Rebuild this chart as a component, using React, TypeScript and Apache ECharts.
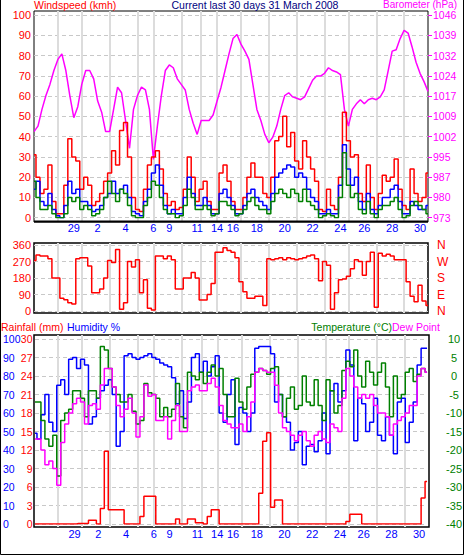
import React, { useEffect, useRef } from 'react';
import * as echarts from 'echarts';

const FONT = '"Liberation Sans", Arial, sans-serif';

// day labels on the time axis, and the sample index at which each day starts
const dayLabels = ['29', '2', '4', '6', '9', '11', '14', '16', '18', '20', '22', '24', '26', '28', '30'];
const dayStart = [6, 12, 19, 26, 30, 37, 42, 46, 52, 59, 66, 73, 79, 86, 93];
const labelShift = 4;

// Wind (km/h)
const windGust = [31, 20, 12, 14, 26, 8, 2, 2, 16, 39, 30, 28, 14, 20, 16, 6, 8, 12, 18, 22, 33, 26, 43, 47, 30, 10, 4, 3, 14, 26, 30, 33, 24, 12, 6, 8, 4, 5, 14, 30, 20, 8, 14, 18, 8, 4, 4, 22, 26, 18, 8, 4, 4, 10, 20, 27, 20, 20, 12, 10, 20, 38, 40, 50, 35, 42, 28, 24, 38, 30, 24, 18, 4, 3, 14, 6, 4, 20, 52, 38, 30, 31, 12, 8, 26, 10, 4, 12, 21, 18, 20, 29, 14, 6, 4, 24, 12, 8, 10, 22];
const windAvg = [14, 18, 8, 6, 12, 4, 1, 0, 6, 18, 12, 14, 8, 8, 6, 3, 4, 6, 10, 12, 18, 12, 14, 16, 10, 3, 2, 1, 8, 14, 22, 26, 16, 6, 2, 4, 2, 2, 10, 20, 12, 6, 6, 10, 6, 2, 2, 12, 14, 10, 6, 2, 2, 6, 12, 14, 10, 8, 6, 4, 12, 20, 22, 24, 26, 25, 20, 22, 20, 14, 10, 8, 2, 2, 4, 2, 2, 16, 36, 24, 16, 20, 8, 4, 12, 4, 2, 6, 10, 10, 14, 16, 8, 2, 2, 8, 6, 4, 4, 6];
const windLow = [18, 10, 4, 4, 6, 2, 0, 0, 2, 10, 8, 10, 4, 6, 4, 1, 2, 4, 10, 18, 12, 8, 14, 12, 6, 1, 0, 0, 6, 10, 18, 16, 10, 4, 2, 2, 0, 1, 6, 14, 10, 4, 4, 6, 4, 1, 2, 8, 8, 6, 4, 1, 2, 4, 8, 10, 6, 4, 4, 2, 8, 12, 14, 12, 10, 14, 12, 8, 14, 8, 6, 4, 0, 1, 2, 1, 0, 10, 32, 16, 10, 12, 4, 2, 8, 2, 0, 4, 6, 6, 8, 10, 4, 0, 1, 6, 8, 6, 4, 2];

// Barometer (hPa)
const baroTicks = [973, 980, 987, 995, 1002, 1009, 1017, 1024, 1032, 1039, 1046];
const barometer = [1004, 1006, 1012, 1017, 1021, 1026, 1030, 1032, 1026, 1017, 1009, 1013, 1021, 1026, 1026, 1023, 1015, 1011, 1004, 1004, 1012, 1020, 1018, 1008, 998, 1012, 1017, 1020, 1019, 1012, 994, 1006, 1017, 1026, 1028, 1027, 1023, 1021, 1019, 1012, 1007, 1003, 1008, 1008, 1008, 1010, 1015, 1020, 1026, 1032, 1037.5, 1039, 1035.5, 1033, 1030, 1021, 1012, 1008, 1003, 1000, 1002, 1006, 1012, 1017, 1018, 1016.5, 1016, 1015.5, 1016.5, 1019.5, 1022.5, 1024, 1024, 1025, 1027, 1026, 1025.5, 1024.5, 1012, 1006, 1012, 1014, 1015.5, 1014, 1015.5, 1016, 1015.5, 1016.5, 1019, 1026, 1033, 1033.5, 1037.5, 1040.5, 1039.5, 1034.5, 1029, 1025, 1022, 1018.5];

// Wind direction (degrees)
const compass = ['N', 'E', 'S', 'W', 'N'];
const windDir = [275, 305, 300, 300, 285, 180, 180, 70, 62, 45, 38, 285, 290, 290, 245, 100, 100, 120, 180, 275, 265, 335, 10, 45, 270, 240, 280, 100, 170, 15, 5, 300, 300, 285, 300, 280, 120, 120, 180, 180, 210, 180, 60, 60, 90, 150, 320, 320, 345, 330, 320, 290, 160, 105, 70, 70, 80, 80, 30, 285, 280, 285, 290, 280, 290, 285, 280, 285, 290, 300, 305, 285, 165, 270, 250, 10, 100, 170, 175, 190, 230, 280, 270, 195, 270, 320, 20, 315, 300, 310, 300, 280, 280, 280, 160, 80, 50, 140, 55, 30];

// Humidity (%), temperature and dew point (°C), rainfall (mm)
const humidity = [49, 46, 59, 70, 55, 50, 75, 78, 70, 89, 90, 84, 89, 86, 54, 58, 68, 72, 75, 78, 70, 42, 50, 91, 92, 90, 89, 90, 91, 92, 90, 89, 87, 86, 85, 79, 65, 72, 57, 66, 90, 92, 82, 88, 80, 85, 91, 60, 55, 70, 78, 43, 63, 60, 50, 60, 95, 96, 96, 96, 92, 66, 70, 58, 55, 40, 44, 50, 32, 42, 43, 39, 45, 60, 38, 72, 76, 66, 72, 94, 86, 45, 68, 65, 50, 55, 68, 48, 45, 58, 48, 38, 66, 68, 44, 55, 66, 86, 95, 95];
const temperature = [-7, -7, -12, -17, -19, -16, -27, -12, -10, -9, -4, -4, -6, -11, -4, -4, -6, 8, 7, 2, -3, -5, -7, -7, -5, -9.5, -13, -12, -2, -4.5, -5, -6, -11, -8.5, -11, -9, -2, -11, -14, 1, 0, -1, 1, -2, 1, 3, 0, 2, -5, -11, -11, -0.6, -7, -9, -3, 0.5, 1, 2, 1.5, 0.5, 2, 2.5, -5, -11, -6, -3, -9, -8, 0, -7, -8, -1, -8, -12, -1, -4, -10, -8, 1.5, 4, 2.5, 7, 0, -3, 4, 1, -2.4, 1, 3.5, -3, -11, 0, -6, -5, 1, 2, -1.5, 0.5, 2, 1];
const dewPoint = [-17, -17, -20, -24, -23, -25, -29.5, -18, -13, -10, -7.5, -6, -7, -13, -8, -7.5, -9, -2.4, 2, 2, -3, -8, -11, -9, -6, -10, -16.5, -11, -2.4, -5.5, -5, -12, -12, -11, -17, -12, -8, -15, -15, -4, -3, -2.4, -4, -4, -2, -0.6, -3, -8, -12, -13, -14, -14, -13, -15, -11, -7, 1, 2, 1.5, 1, 1, -2.5, -10, -14, -15, -16, -17.5, -16, -15, -17.5, -19, -16, -15, -17, -18, -13, -14, -15, -6, 2, 0, -3, -6, -5, -6, -5, -8, -10, -10, -11, -16, -13, -12, -11, -10, -8, -8, 0, 2, 1];
const rainfall = [0, 0, 0, 0, 0, 0, 0, 0, 0, 0, 0, 0.1, 0.1, 0.1, 0.6, 0.6, 0, 2.5, 11.8, 2.3, 2.3, 2.3, 2.3, 0, 0, 0, 0, 1.2, 4.5, 4.5, 4.5, 0, 0, 0, 0, 0, 0.8, 0, 0, 0.8, 0.8, 0.2, 0.2, 0, 1.2, 2.3, 2.3, 0, 0, 0, 0, 0, 0, 0, 0, 0, 0, 5, 13.4, 14.8, 2.7, 3.9, 3.9, 0, 0, 0, 0, 0, 0, 0, 0, 0, 0, 0, 0, 0, 0, 0, 0, 0.4, 1.6, 1.6, 1.6, 0, 0, 0, 0, 0, 0, 0, 0, 0, 0, 0, 0, 0, 0, 0, 4.2, 6.9];

const N = windGust.length;
const categories = Array.from({ length: N }, (_, i) => {
  const k = dayStart.indexOf(i - labelShift);
  return k >= 0 ? dayLabels[k] : '';
});
const dayStartSet = new Set(dayStart);

export default function App() {
  const ref = useRef<HTMLDivElement>(null);

  useEffect(() => {
    if (!ref.current) return;
    const chart = echarts.init(ref.current, undefined, { renderer: 'svg' });

    const vGrid = {
      show: true,
      interval: (i: number) => dayStartSet.has(i),
      lineStyle: { color: '#dcdcdc', width: 2 },
    };
    const dash = { show: true, lineStyle: { color: '#c8c8c8', type: [4, 3] as any, width: 1 } };
    const lbl = { fontSize: 11, fontFamily: FONT, lineHeight: 11 };
    const lblSmall = { fontSize: 10.5, fontFamily: FONT, lineHeight: 10 };

    const frameX = (gridIndex: number) => ({
      type: 'category', gridIndex, data: categories, boundaryGap: false,
      axisLine: { show: false }, axisTick: { show: false }, axisLabel: { show: false },
      splitLine: vGrid,
    });
    const mainX = (gridIndex: number, showLabels: boolean, margin: number) => ({
      type: 'category', gridIndex, data: categories, boundaryGap: false,
      axisLine: { show: false }, axisTick: { show: false },
      axisLabel: { show: showLabels, interval: 0, color: '#0000ff', margin, ...lbl },
      splitLine: { show: false },
    });
    const frameY = (gridIndex: number) => ({ type: 'value', gridIndex, show: false });

    const baroPos = baroTicks.map((_, k) => 973 + k * 7.3);

    const lineS = (data: number[], color: string, xAxisIndex: number, yAxisIndex: number, step: any = 'middle') => ({
      type: 'line', data, xAxisIndex, yAxisIndex, step, symbol: 'none', silent: true,
      itemStyle: { color }, lineStyle: { color, width: 1.5 },
    });

    const txt = (text: string, x: number, y: number, fill: string, align = 'left', size = 10.5) => ({
      type: 'text', x, y, z: 50,
      style: {
        text, fill, font: `${size}px ${FONT}`, lineHeight: 10,
        textAlign: align, align, textVerticalAlign: 'middle', verticalAlign: 'middle',
      },
    });

    const option: any = {
      animation: false,
      backgroundColor: '#ffffff',
      textStyle: { fontFamily: FONT },
      grid: [
        { left: 34, right: 37, top: 11, height: 211, show: true, borderColor: '#000', borderWidth: 1, backgroundColor: '#fff' },
        { left: 34, right: 37, top: 15, height: 202.7 },
        { left: 34, right: 37, top: 243, height: 70, show: true, borderColor: '#000', borderWidth: 1.5, backgroundColor: '#fff' },
        { left: 34, right: 37, top: 245, height: 66 },
        { left: 34, right: 36, top: 335, height: 192, show: true, borderColor: '#000', borderWidth: 1.5, backgroundColor: '#fff' },
        { left: 34, right: 36, top: 339, height: 185 },
      ],
      xAxis: [
        frameX(0),
        mainX(1, true, 5),
        frameX(2),
        mainX(3, false, 4),
        frameX(4),
        mainX(5, true, 4),
      ],
      yAxis: [
        frameY(0),
        {
          type: 'value', gridIndex: 1, position: 'left', min: 0, max: 100, interval: 10,
          axisLine: { show: false }, axisTick: { show: false },
          axisLabel: { color: '#ff0000', margin: 3, ...lbl }, splitLine: dash,
        },
        {
          type: 'value', gridIndex: 1, position: 'right', min: 973, max: 1046,
          axisLine: { show: false },
          axisTick: { show: true, length: 4, lineStyle: { color: '#ff00ff' }, customValues: baroPos },
          axisLabel: {
            color: '#ff00ff', margin: 5, ...lblSmall, customValues: baroPos,
            formatter: (v: number) => String(baroTicks[Math.round((v - 973) / 7.3)] ?? ''),
          },
          splitLine: { show: false },
        },
        frameY(2),
        {
          type: 'value', gridIndex: 3, position: 'left', min: 0, max: 360, interval: 90,
          axisLine: { show: false }, axisTick: { show: false },
          axisLabel: { color: '#ff0000', margin: 3, ...lbl }, splitLine: dash,
        },
        {
          type: 'value', gridIndex: 3, position: 'right', min: 0, max: 360, interval: 90,
          axisLine: { show: false }, axisTick: { show: false },
          axisLabel: { color: '#ff0000', margin: 9, ...lbl, fontSize: 12, formatter: (v: number) => compass[Math.round(v / 90)] },
          splitLine: { show: false },
        },
        frameY(4),
        {
          type: 'value', gridIndex: 5, position: 'left', min: 0, max: 100, interval: 10,
          axisLine: { show: false }, axisTick: { show: false },
          axisLabel: { color: '#0000ff', margin: 32, align: 'left', ...lblSmall }, splitLine: dash,
        },
        {
          type: 'value', gridIndex: 5, position: 'left', min: 0, max: 30, interval: 3,
          axisLine: { show: false }, axisTick: { show: false },
          axisLabel: { color: '#ff0000', margin: 2.5, ...lblSmall }, splitLine: { show: false },
        },
        {
          type: 'value', gridIndex: 5, position: 'right', min: -40, max: 10, interval: 5,
          axisLine: { show: false }, axisTick: { show: false },
          axisLabel: { color: '#008000', margin: 27, align: 'center', ...lbl }, splitLine: { show: false },
        },
      ],
      series: [
        lineS(barometer, '#ff00ff', 1, 2, false),
        lineS(windGust, '#ff0000', 1, 1),
        lineS(windAvg, '#0000ff', 1, 1),
        lineS(windLow, '#008000', 1, 1),
        lineS(windDir, '#ff0000', 3, 4),
        lineS(humidity, '#0000ff', 5, 7),
        lineS(temperature, '#008000', 5, 9),
        lineS(dewPoint, '#ff00ff', 5, 9),
        lineS(rainfall, '#ff0000', 5, 8),
      ],
      graphic: [
        { type: 'rect', z: 100, silent: true, shape: { x: 0.5, y: -5, width: 463, height: 559.5 }, style: { fill: 'none', stroke: '#000', lineWidth: 1 } },
        { type: 'line', z: 100, silent: true, shape: { x1: 34, y1: 221.5, x2: 428, y2: 221.5 }, style: { stroke: '#000', lineWidth: 2 } },
        txt('Windspeed (kmh)', 34, 4.5, '#ff0000'),
        txt('Current last 30 days 31 March 2008', 255, 4.5, '#000080', 'center'),
        txt('Barometer (hPa)', 457, 4, '#ff00ff', 'right', 10),
        txt('Rainfall (mm)', 1, 327, '#ff0000'),
        txt('Humidity %', 67, 327, '#0000ff'),
        txt('Temperature (°C)', 392, 327, '#008000', 'right'),
        txt('Dew Point', 392, 327, '#ff00ff'),
      ],
    };

    chart.setOption(option);
    return () => chart.dispose();
  }, []);

  return (
    <div style={{ position: 'absolute', left: 0, top: 0, width: 465, height: 556, background: '#fff' }}>
      <div ref={ref} style={{ width: 465, height: 556 }} />
    </div>
  );
}
